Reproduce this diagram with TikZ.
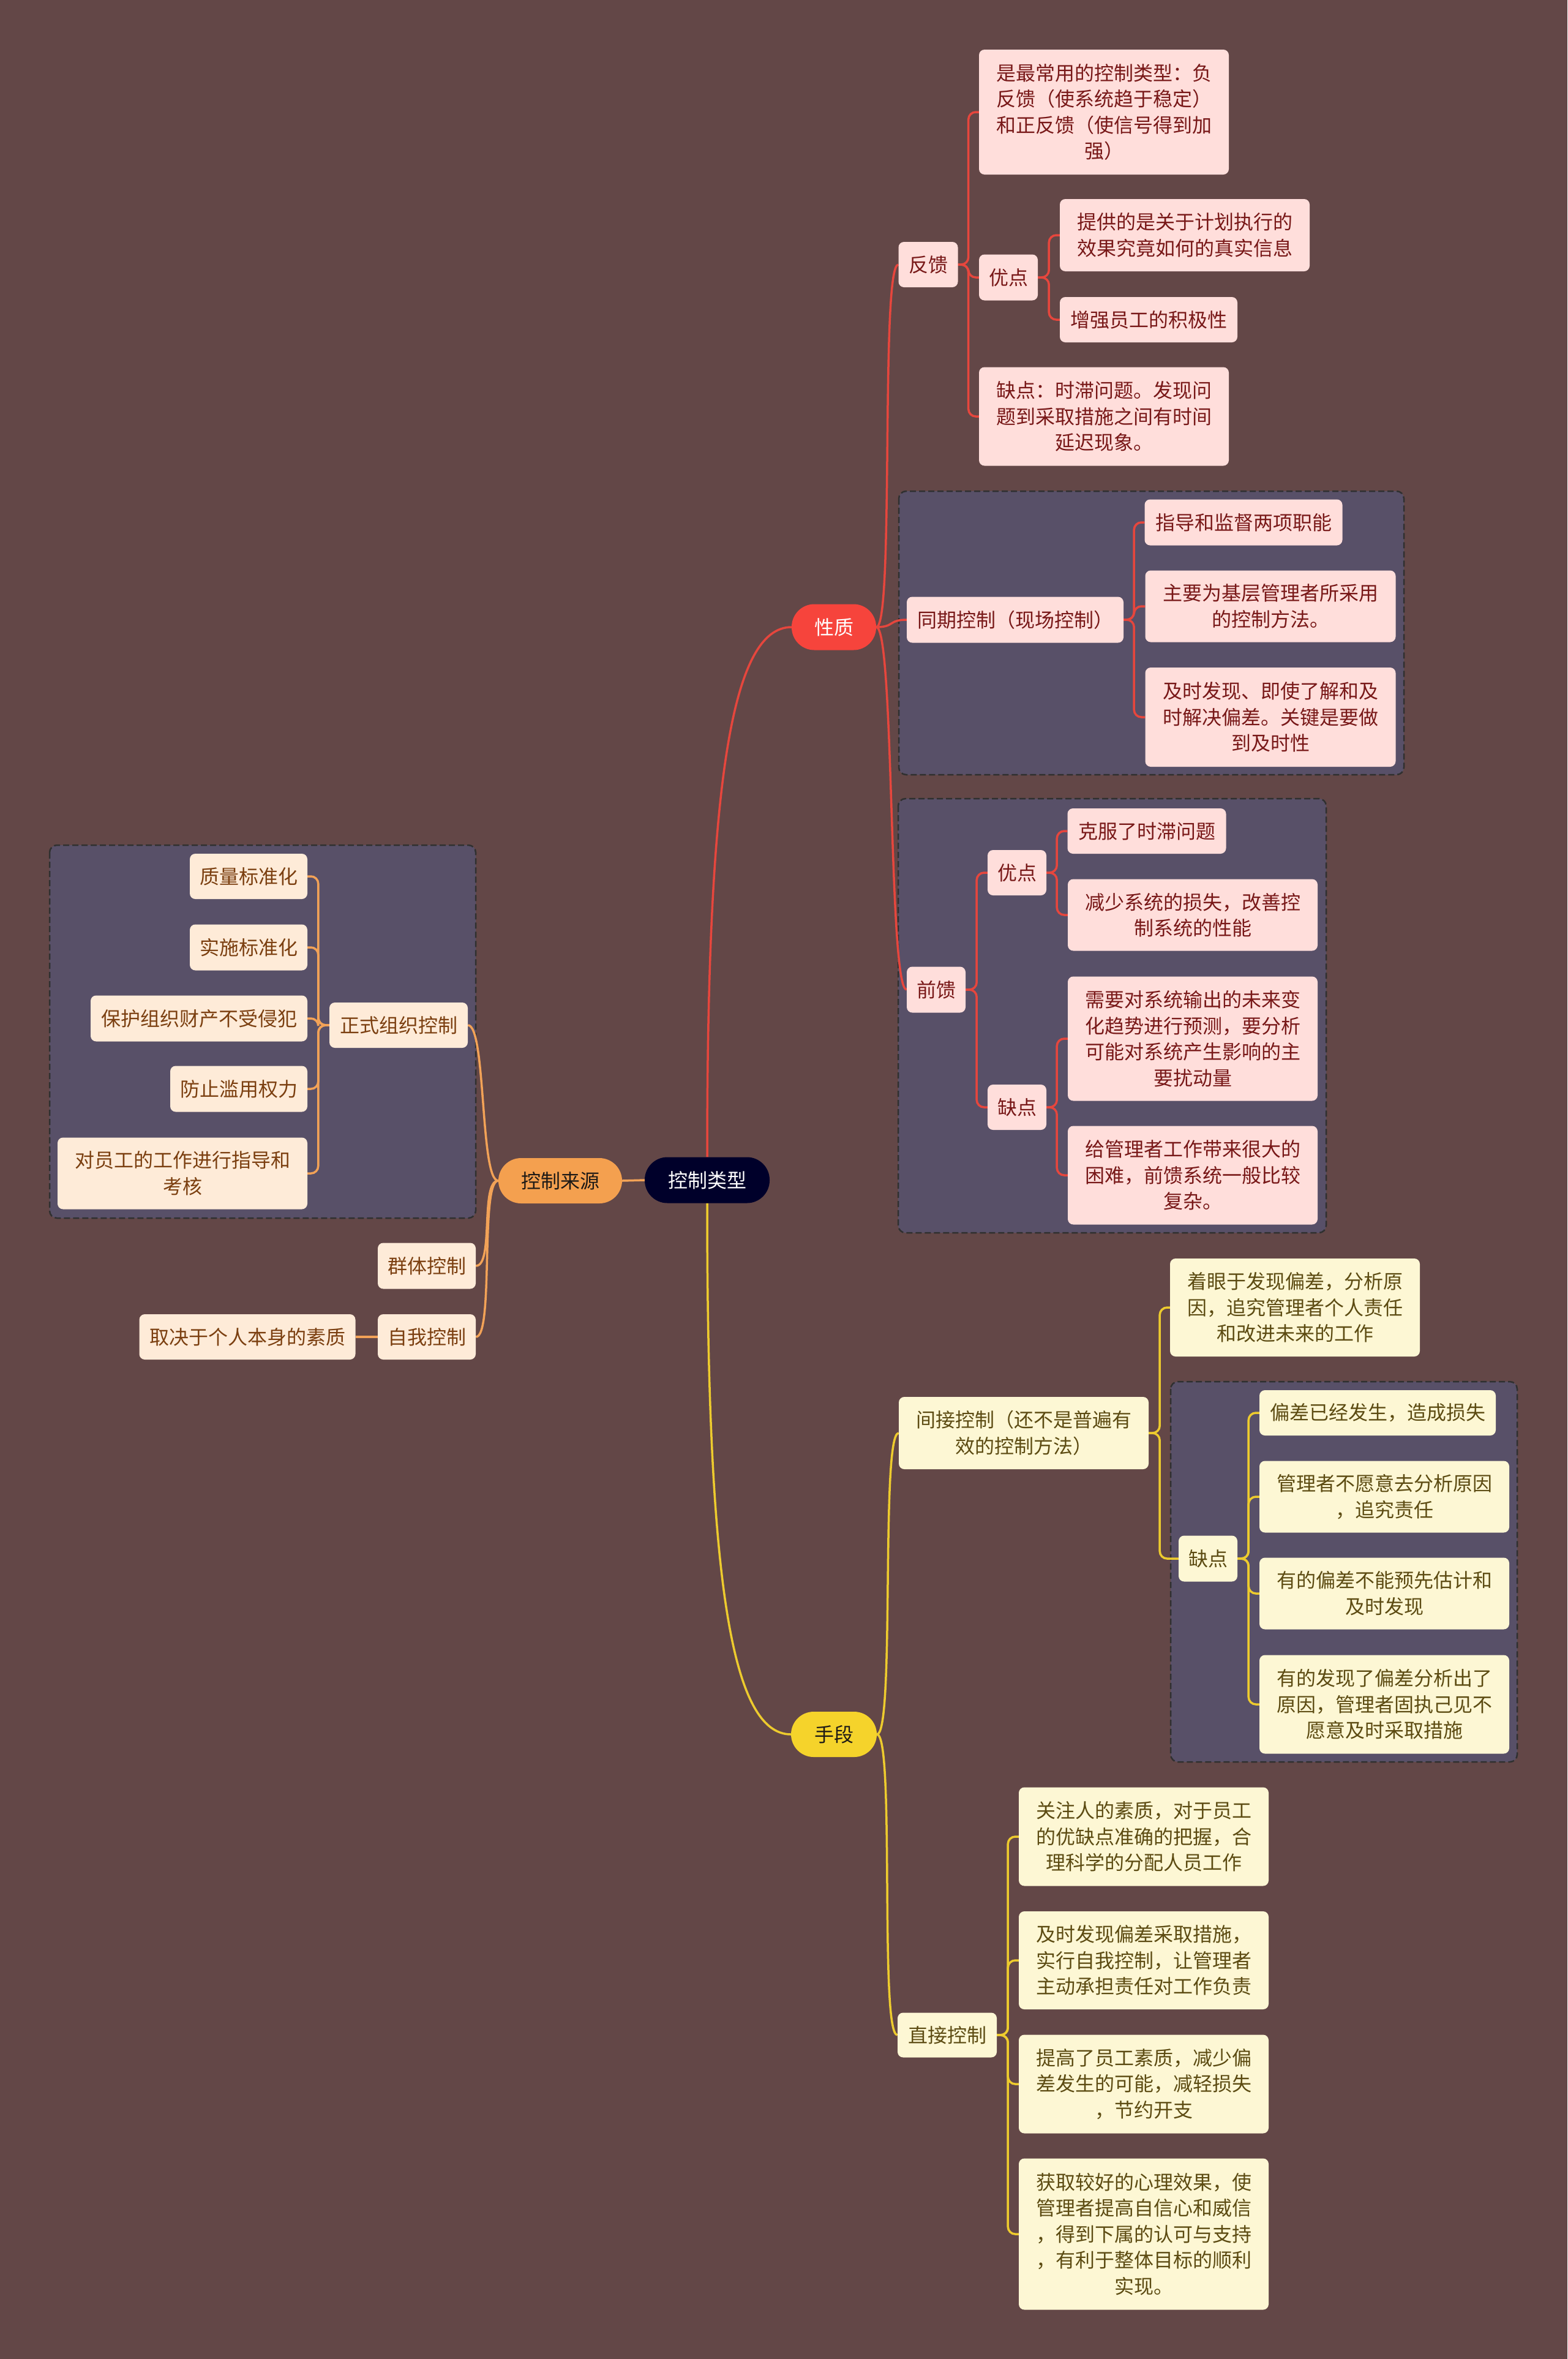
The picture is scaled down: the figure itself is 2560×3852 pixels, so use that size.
\documentclass[tikz,border=0pt]{standalone}
\usepackage{fontspec}
\newfontfamily\cjk{Noto Sans CJK SC}
\pgfdeclarelayer{bg}
\pgfdeclarelayer{lines}
\pgfsetlayers{bg,lines,main}
\definecolor{bgc}{HTML}{634747}
\definecolor{grpc}{HTML}{585068}
\definecolor{grpline}{HTML}{303030}
\definecolor{rootc}{HTML}{00002A}
\definecolor{redc}{HTML}{F6443C}
\definecolor{orac}{HTML}{F4A04F}
\definecolor{yelc}{HTML}{F5D32B}
\definecolor{pinkc}{HTML}{FFDEDB}
\definecolor{creamc}{HTML}{FEEBD8}
\definecolor{lyelc}{HTML}{FDF7D4}
\definecolor{redtxt}{HTML}{781818}
\definecolor{brotxt}{HTML}{7B3F10}
\definecolor{olitxt}{HTML}{5C4B12}
\definecolor{pilltxt}{HTML}{1E1A16}
\definecolor{lineR}{HTML}{E6463D}
\definecolor{lineO}{HTML}{F2A257}
\definecolor{lineY}{HTML}{EDCB2E}
\tikzset{
  box/.style={rounded corners=9pt, inner sep=0pt, align=center, font=\cjk\fontsize{32}{42.5}\selectfont},
  leafR/.style={box, fill=pinkc, text=redtxt},
  leafO/.style={box, fill=creamc, text=brotxt},
  leafY/.style={box, fill=lyelc, text=olitxt},
  pill/.style={box, rounded corners=37pt},
  grp/.style={fill=grpc, draw=grpline, line width=2.5pt, dash pattern=on 10pt off 5pt, rounded corners=12pt},
  cR/.style={draw=lineR, line width=3.5pt},
  cO/.style={draw=lineO, line width=3.5pt},
  cY/.style={draw=lineY, line width=3.5pt},
  elbow/.style={rounded corners=12pt},
  wh/.style args={#1x#2}{minimum width=#1pt, minimum height=#2pt}
}
\begin{document}
\begin{tikzpicture}[x=1pt,y=-1pt]
\begin{pgfonlayer}{bg}
\fill[bgc] (0,0) rectangle (2560,3852);
\path[grp] (1468,802) rectangle (2293,1265);
\path[grp] (1467,1304) rectangle (2166,2013);
\path[grp] (81,1380) rectangle (777,1989);
\path[grp] (1912,2256) rectangle (2478,2877);
\end{pgfonlayer}

% root
\node[pill, fill=rootc, text=white, wh=204x75] (root) at (1155,1927) {控制类型};

% 性质 branch
\node[pill, fill=redc, text=white, wh=138x75] (xz) at (1362,1024) {性质};
\node[leafR, wh=97x74] (fk) at (1516,432) {反馈};
\node[leafR, wh=408x204] (fk1) at (1803,183) {是最常用的控制类型：负\\反馈（使系统趋于稳定）\\和正反馈（使信号得到加\\强）};
\node[leafR, wh=96x75] (fkyd) at (1647,453) {优点};
\node[leafR, wh=408x118] (fkyd1) at (1935,384) {提供的是关于计划执行的\\效果究竟如何的真实信息};
\node[leafR, wh=290x74] (fkyd2) at (1876,522) {增强员工的积极性};
\node[leafR, wh=408x161] (fkqd) at (1803,680) {缺点：时滞问题。发现问\\题到采取措施之间有时间\\延迟现象。};
\node[leafR, wh=354x75] (tq) at (1658,1012) {同期控制（现场控制）};
\node[leafR, wh=323x75] (tq1) at (2031,853) {指导和监督两项职能};
\node[leafR, wh=409x117] (tq2) at (2075,990) {主要为基层管理者所采用\\的控制方法。};
\node[leafR, wh=409x162] (tq3) at (2075,1171) {及时发现、即使了解和及\\时解决偏差。关键是要做\\到及时性};
\node[leafR, wh=96x75] (qk) at (1529,1616) {前馈};
\node[leafR, wh=96x74] (qkyd) at (1661,1425) {优点};
\node[leafR, wh=259x74] (qkyd1) at (1873,1357) {克服了时滞问题};
\node[leafR, wh=408x117] (qkyd2) at (1948,1494) {减少系统的损失，改善控\\制系统的性能};
\node[leafR, wh=96x74] (qkqd) at (1661,1808) {缺点};
\node[leafR, wh=408x203] (qkqd1) at (1948,1696) {需要对系统输出的未来变\\化趋势进行预测，要分析\\可能对系统产生影响的主\\要扰动量};
\node[leafR, wh=408x161] (qkqd2) at (1948,1919) {给管理者工作带来很大的\\困难，前馈系统一般比较\\复杂。};

% 控制来源 branch
\node[pill, fill=orac, text=pilltxt, wh=202x74] (ly) at (915,1928) {控制来源};
\node[leafO, wh=226x74] (zs) at (651,1674) {正式组织控制};
\node[leafO, wh=192x74] (zs1) at (406,1431) {质量标准化};
\node[leafO, wh=192x75] (zs2) at (406,1547) {实施标准化};
\node[leafO, wh=354x75] (zs3) at (325,1663) {保护组织财产不受侵犯};
\node[leafO, wh=224x75] (zs4) at (390,1778) {防止滥用权力};
\node[leafO, wh=408x117] (zs5) at (298,1916) {对员工的工作进行指导和\\考核};
\node[leafO, wh=160x75] (qt) at (697,2067) {群体控制};
\node[leafO, wh=160x74] (zw) at (697,2183) {自我控制};
\node[leafO, wh=353x74] (zw1) at (404,2183) {取决于个人本身的素质};

% 手段 branch
\node[pill, fill=yelc, text=pilltxt, wh=140x74] (sd) at (1362,2832) {手段};
\node[leafY, wh=408x118] (jj) at (1672,2340) {间接控制（还不是普遍有\\效的控制方法）};
\node[leafY, wh=408x160] (jj1) at (2115,2135) {着眼于发现偏差，分析原\\因，追究管理者个人责任\\和改进未来的工作};
\node[leafY, wh=96x75] (jjqd) at (1973,2545) {缺点};
\node[leafY, wh=386x74] (jjqd1) at (2250,2307) {偏差已经发生，造成损失};
\node[leafY, wh=408x117] (jjqd2) at (2261,2444) {管理者不愿意去分析原因\\，追究责任};
\node[leafY, wh=408x117] (jjqd3) at (2261,2602) {有的偏差不能预先估计和\\及时发现};
\node[leafY, wh=408x161] (jjqd4) at (2261,2783) {有的发现了偏差分析出了\\原因，管理者固执己见不\\愿意及时采取措施};
\node[leafY, wh=162x73] (zj) at (1547,3323) {直接控制};
\node[leafY, wh=408x161] (zj1) at (1868,2999) {关注人的素质，对于员工\\的优缺点准确的把握，合\\理科学的分配人员工作};
\node[leafY, wh=408x160] (zj2) at (1868,3201) {及时发现偏差采取措施，\\实行自我控制，让管理者\\主动承担责任对工作负责};
\node[leafY, wh=408x161] (zj3) at (1868,3403) {提高了员工素质，减少偏\\差发生的可能，减轻损失\\，节约开支};
\node[leafY, wh=408x247] (zj4) at (1868,3648) {获取较好的心理效果，使\\管理者提高自信心和威信\\，得到下属的认可与支持\\，有利于整体目标的顺利\\实现。};

\begin{pgfonlayer}{lines}
% red
\draw[cR] (root.north) .. controls +(0,-600) and +(-100,0) .. (xz.west);
\foreach \c in {fk,tq,qk} \draw[cR] (xz.east) .. controls +(30,0) and +(-30,0) .. (\c.west);
\foreach \c in {fk1,fkyd,fkqd} \draw[cR,elbow] (fk.east) -- ++(17,0) |- (\c.west);
\foreach \c in {fkyd1,fkyd2} \draw[cR,elbow] (fkyd.east) -- ++(18,0) |- (\c.west);
\foreach \c in {tq1,tq2,tq3} \draw[cR,elbow] (tq.east) -- ++(17,0) |- (\c.west);
\foreach \c in {qkyd,qkqd} \draw[cR,elbow] (qk.east) -- ++(18,0) |- (\c.west);
\foreach \c in {qkyd1,qkyd2} \draw[cR,elbow] (qkyd.east) -- ++(17,0) |- (\c.west);
\foreach \c in {qkqd1,qkqd2} \draw[cR,elbow] (qkqd.east) -- ++(17,0) |- (\c.west);
% orange
\draw[cO] (root.west) -- (ly.east);
\foreach \c in {zs,qt,zw} \draw[cO] (ly.west) .. controls +(-30,0) and +(30,0) .. (\c.east);
\foreach \c in {zs1,zs2,zs3,zs4,zs5} \draw[cO,elbow] (zs.west) -- ++(-18,0) |- (\c.east);
\draw[cO] (zw.west) -- (zw1.east);
% yellow
\draw[cY] (root.south) .. controls +(0,600) and +(-100,0) .. (sd.west);
\foreach \c in {jj,zj} \draw[cY] (sd.east) .. controls +(30,0) and +(-30,0) .. (\c.west);
\foreach \c in {jj1,jjqd} \draw[cY,elbow] (jj.east) -- ++(18,0) |- (\c.west);
\foreach \c in {jjqd1,jjqd2,jjqd3,jjqd4} \draw[cY,elbow] (jjqd.east) -- ++(18,0) |- (\c.west);
\foreach \c in {zj1,zj2,zj3,zj4} \draw[cY,elbow] (zj.east) -- ++(18,0) |- (\c.west);
\end{pgfonlayer}
\end{tikzpicture}
\end{document}
